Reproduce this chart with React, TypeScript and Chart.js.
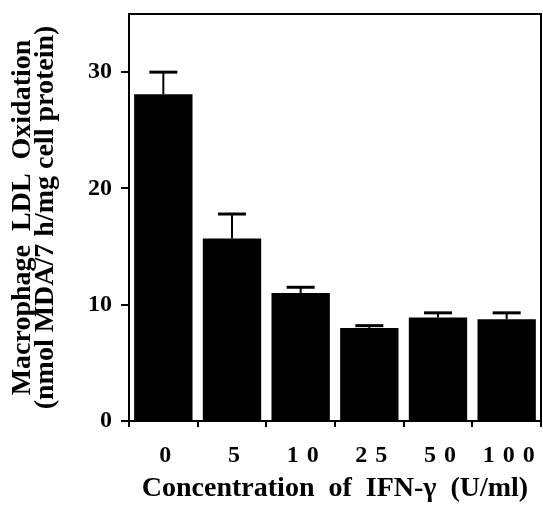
import React, { useEffect, useRef } from 'react';
import { Chart, registerables } from 'chart.js';
Chart.register(...registerables);

const categories = ['0', '5', '10', '25', '50', '100'];
const meanValues = [28.1, 15.7, 11.0, 8.0, 8.9, 8.75];
const errorValues = [1.9, 2.1, 0.5, 0.2, 0.4, 0.55];
const yTickValues = [0, 10, 20, 30];
const xTitle = 'Concentration  of  IFN-\u03B3  (U/ml)';
const yTitle = ['Macrophage  LDL  Oxidation', '(nmol MDA/7 h/mg cell protein)'];

const FONT = '"Liberation Serif", "Times New Roman", serif';

const errorBarPlugin = {
  id: 'errorBars',
  afterDatasetsDraw(chart: any) {
    const meta = chart.getDatasetMeta(0);
    const y = chart.scales.y;
    const ctx = chart.ctx;
    ctx.save();
    ctx.strokeStyle = '#000';
    meta.data.forEach((bar: any, i: number) => {
      const top = y.getPixelForValue(meanValues[i] + errorValues[i]);
      const x = bar.x;
      ctx.lineWidth = 2;
      ctx.beginPath();
      ctx.moveTo(x, bar.y);
      ctx.lineTo(x, top);
      ctx.stroke();
      ctx.lineWidth = 3;
      ctx.beginPath();
      ctx.moveTo(x - 14, top);
      ctx.lineTo(x + 14, top);
      ctx.stroke();
    });
    ctx.restore();
  },
};

const framePlugin = {
  id: 'frame',
  afterDraw(chart: any) {
    const { ctx, chartArea } = chart;
    ctx.save();
    ctx.strokeStyle = '#000';
    ctx.lineWidth = 2;
    ctx.beginPath();
    ctx.moveTo(chartArea.left, chartArea.top);
    ctx.lineTo(chartArea.right, chartArea.top);
    ctx.lineTo(chartArea.right, chartArea.bottom);
    ctx.stroke();
    ctx.restore();
  },
};

const xLabelPlugin = {
  id: 'xLabels',
  afterDraw(chart: any) {
    const { ctx } = chart;
    const x = chart.scales.x;
    const spacing = 8;
    ctx.save();
    ctx.fillStyle = '#000';
    ctx.font = `bold 24px ${FONT}`;
    ctx.textAlign = 'left';
    ctx.textBaseline = 'alphabetic';
    categories.forEach((c, i) => {
      (ctx as any).letterSpacing = '0px';
      const w0 = ctx.measureText(c).width;
      const w = w0 + spacing * (c.length - 1);
      (ctx as any).letterSpacing = `${spacing}px`;
      const px = x.getPixelForValue(i);
      ctx.fillText(c, px - w / 2 + 2, 462);
    });
    ctx.restore();
  },
};

export default function App() {
  const ref = useRef<HTMLCanvasElement | null>(null);
  useEffect(() => {
    if (!ref.current) return;
    const chart = new Chart(ref.current, {
      type: 'bar',
      data: {
        labels: categories,
        datasets: [
          {
            data: meanValues,
            backgroundColor: '#000',
            borderWidth: 0,
            barPercentage: 0.85,
            categoryPercentage: 1,
          },
        ],
      },
      options: {
        animation: false,
        responsive: true,
        maintainAspectRatio: false,
        layout: { padding: { top: 14, right: 2, left: 0, bottom: 0 } },
        plugins: { legend: { display: false }, tooltip: { enabled: false } },
        scales: {
          x: {
            offset: true,
            grid: {
              offset: true,
              drawOnChartArea: false,
              drawTicks: true,
              tickLength: 6,
              color: '#000',
              lineWidth: 2,
            },
            border: { display: true, color: '#000', width: 2 },
            ticks: { display: false },
            title: {
              display: true,
              text: xTitle,
              color: '#000',
              font: { family: FONT, size: 28, weight: 'bold', lineHeight: 1.2 },
              padding: { top: 0, bottom: 3 },
            },
            afterFit(scale: any) {
              scale.height = 88;
              scale.paddingLeft = 0;
              scale.paddingRight = 0;
            },
          },
          y: {
            min: 0,
            max: 35,
            afterBuildTicks(scale: any) {
              scale.ticks = yTickValues.map((v) => ({ value: v }));
            },
            grid: {
              drawOnChartArea: false,
              drawTicks: true,
              tickLength: 8,
              color: '#000',
              lineWidth: 2,
            },
            border: { display: true, color: '#000', width: 2 },
            ticks: {
              color: '#000',
              padding: 9,
              font: { family: FONT, size: 24, weight: 'bold' },
            },
            title: {
              display: true,
              text: yTitle,
              color: '#000',
              font: { family: FONT, size: 28, weight: 'bold', lineHeight: 0.82 },
              padding: { top: 11, bottom: 0 },
            },
            afterFit(scale: any) {
              scale.width = 129;
              scale.paddingTop = 0;
              scale.paddingBottom = 0;
            },
          },
        },
      },
      plugins: [errorBarPlugin, framePlugin, xLabelPlugin],
    });
    return () => chart.destroy();
  }, []);
  return (
    <div style={{ position: 'fixed', left: 0, top: 0, width: 543, height: 509, background: '#fff' }}>
      <canvas ref={ref} />
    </div>
  );
}
